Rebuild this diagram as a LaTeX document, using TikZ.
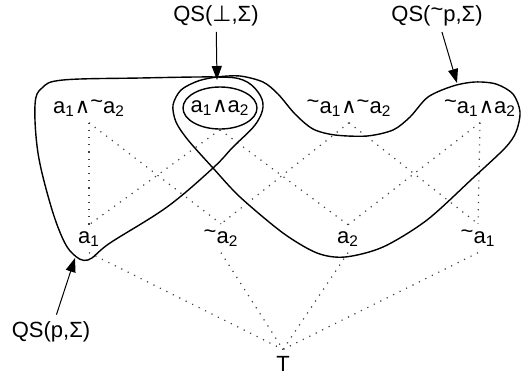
\documentclass[tikz,border=0pt]{standalone}
\usepackage{fontspec}
\setmainfont{Liberation Sans}
\newfontfamily\symfont{DejaVu Sans}
\usetikzlibrary{arrows.meta,shapes.geometric}
\newcommand\tnot{\raisebox{.35ex}{\textasciitilde}}
\newcommand\conj{{\symfont\fontsize{10.5}{10.5}\selectfont ∧}}
\newcommand\fals{{\symfont ⊥}}
\newcommand\ix[1]{\textsubscript{#1}}
\tikzset{
  >={Triangle[length=7pt,width=5pt]},
  % verband
  lab/.style={inner sep=3pt,anchor=base,font=\fontsize{11}{13}\selectfont},
  hasse/.style={draw=black!75,line width=0.6pt,dash pattern=on 0.6pt off 3pt},
  % mengen
  region/.style={draw=black,line width=0.7pt},
  qs/.style={->,draw=black,line width=0.5pt},
}
\begin{document}
\begin{tikzpicture}[x=0.5pt,y=-0.5pt]
\useasboundingbox (0,0) rectangle (522,381);
  \node[lab] (a1na2) at (89,113) {a\ix1\conj\tnot a\ix2};
  \node[lab,anchor=center,ellipse,draw,line width=0.7pt,inner xsep=-2.5pt,inner ysep=0pt,
        minimum width=37pt,minimum height=21pt] (a1a2) at (220,108) {a\ix1\conj a\ix2};
  \node[lab] (na1na2) at (349,113) {\tnot a\ix1\conj\tnot a\ix2};
  \node[lab] (na1a2) at (480,113) {\tnot a\ix1\conj a\ix2};
  \node[lab] (a1) at (89,243) {a\ix1};
  \node[lab] (na2) at (221,243) {\tnot a\ix2};
  \node[lab] (a2) at (348,243) {a\ix2};
  \node[lab] (na1) at (478,243) {\tnot a\ix1};
  \node[lab] (top) at (283,371) {T};
  \foreach \u/\l in {a1na2/a1,a1na2/na2,a1a2/a1,a1a2/a2,na1na2/na2,na1na2/na1,
                     na1a2/a2,na1a2/na1,a1/top,na2/top,a2/top,na1/top}
    \draw[hasse] (\u.south) -- (\l.north);
  % QS(p,Sigma)
  \draw[region] plot[smooth cycle,tension=0.6] coordinates {(217,77) (243,80) (258,92)
    (263,107) (255,125) (233,147) (213,168) (167,207) (110,243) (88,260) (73,254)
    (62,237) (50,203) (38,153) (35,105) (42,88) (63,80) (140,78)};
  % QS(~p,Sigma)
  \draw[region] plot[smooth cycle] coordinates {(217,77) (240,76) (263,82) (278,94)
    (295,114) (313,129) (335,135) (367,136) (393,130) (410,117) (428,97) (453,86)
    (475,82) (496,84) (513,94) (520,112) (516,132) (505,148) (473,178) (427,220)
    (383,247) (345,257) (317,253) (283,233) (240,197) (213,168) (188,140) (176,122)
    (173,105) (181,90) (198,81)};
  \coordinate (junc) at (217,80);
  \coordinate (ptip) at (75,258);
  \coordinate (qtip) at (457,83);
  \node[lab] (qsbot) at (216,21) {QS(\fals,Σ)};
  \node[lab] (qsnp) at (437,21) {QS(\tnot p,Σ)};
  \node[lab] (qsp) at (51,337) {QS(p,Σ)};
  \draw[qs] (qsbot) -- (junc);
  \draw[qs] (qsnp) -- (qtip);
  \draw[qs] (qsp) -- (ptip);
\end{tikzpicture}
\end{document}
